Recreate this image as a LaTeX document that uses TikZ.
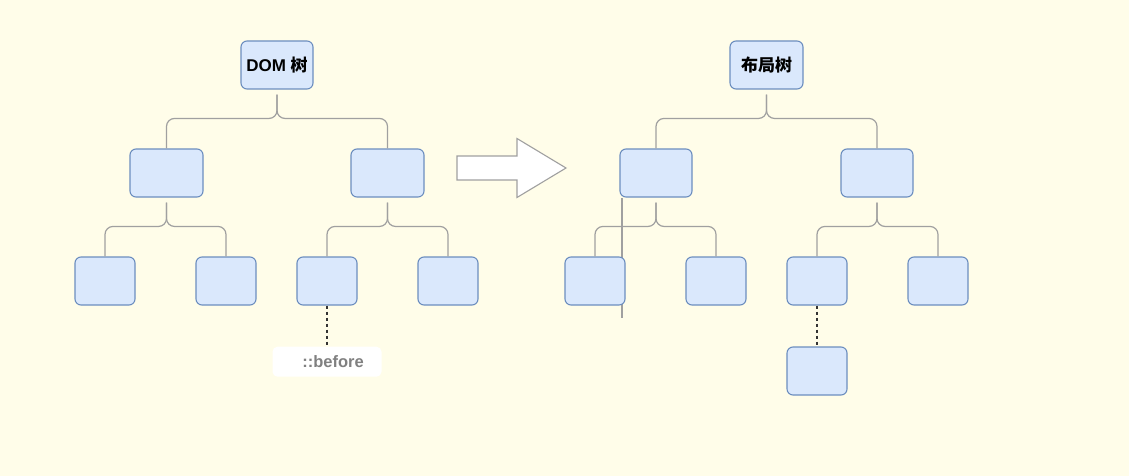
\documentclass[tikz,border=0pt]{standalone}
\usepackage{fontspec}
\setmainfont{Liberation Sans}
\newfontfamily\cjk{Noto Sans CJK SC}
\usetikzlibrary{calc}
\definecolor{bgc}{RGB}{255,253,233}
\definecolor{nfill}{HTML}{DAE8FC}
\definecolor{ndraw}{HTML}{6C8EBF}
\definecolor{cgray}{RGB}{160,160,160}
\definecolor{tgray}{RGB}{128,128,128}
\tikzset{
  box/.style={draw=ndraw, fill=nfill, line width=1.1pt, rounded corners=6pt, minimum height=48pt, inner sep=0pt, font=\fontsize{17}{20}\selectfont\bfseries},
  wide/.style={box, minimum width=72pt},
  leaf/.style={box, minimum width=60pt},
  conn/.style={draw=cgray, line width=1.2pt, rounded corners=8pt},
  dotln/.style={draw=black!80, line width=1.3pt, dash pattern=on 3pt off 3pt},
  lbl/.style={fill=white, rounded corners=5pt, minimum width=109pt, minimum height=30pt, inner sep=0pt, text=tgray, font=\fontsize{16.5}{19}\selectfont\bfseries},
  bigarrow/.style={draw=cgray, fill=white, line width=1.1pt}
}
\begin{document}
\begin{tikzpicture}[x=1pt,y=-1pt]
\fill[bgc] (0,0) rectangle (1129,476);
\useasboundingbox (0,0) rectangle (1129,476);

% stray line in right tree (under nodes)
\coordinate (s1) at (622,198);
\coordinate (s2) at (622,318);
\draw[conn] (s1) -- (s2);

% left tree
\node[wide] (a0) at (277,65) {DOM {\cjk\bfseries 树}};
\node[wide, minimum width=73pt] (a1) at (166.5,173) {};
\node[wide, minimum width=73pt] (a2) at (387.5,173) {};
\node[leaf] (a11) at (105,281) {};
\node[leaf] (a12) at (226,281) {};
\node[leaf] (a21) at (327,281) {};
\node[leaf] (a22) at (448,281) {};
\node[lbl] (ab) at (327,361.7) {\hspace*{12pt}::before};

\foreach \p/\c in {a0/a1,a0/a2,a1/a11,a1/a12,a2/a21,a2/a22}{
  \draw[conn] ([yshift=-5pt]\p.south) |- ([yshift=30pt]\c.north) -- (\c.north);
}
\draw[dotln] (a21.south) -- (ab.north);

% arrow
\filldraw[bigarrow] (457,156) -- (517,156) -- (517,138.5) -- (566,168) -- (517,197.5) -- (517,180) -- (457,180) -- cycle;

% right tree
\node[wide, minimum width=73pt] (b0) at (766.5,65) {{\cjk\bfseries 布局树}};
\node[wide] (b1) at (656,173) {};
\node[wide] (b2) at (877,173) {};
\node[leaf] (b11) at (595,281) {};
\node[leaf] (b12) at (716,281) {};
\node[leaf] (b21) at (817,281) {};
\node[leaf] (b22) at (938,281) {};
\node[leaf] (b3) at (817,371) {};

\foreach \p/\c in {b0/b1,b0/b2,b1/b11,b1/b12,b2/b21,b2/b22}{
  \draw[conn] ([yshift=-5pt]\p.south) |- ([yshift=30pt]\c.north) -- (\c.north);
}
\draw[dotln] (b21.south) -- (b3.north);
\end{tikzpicture}
\end{document}
